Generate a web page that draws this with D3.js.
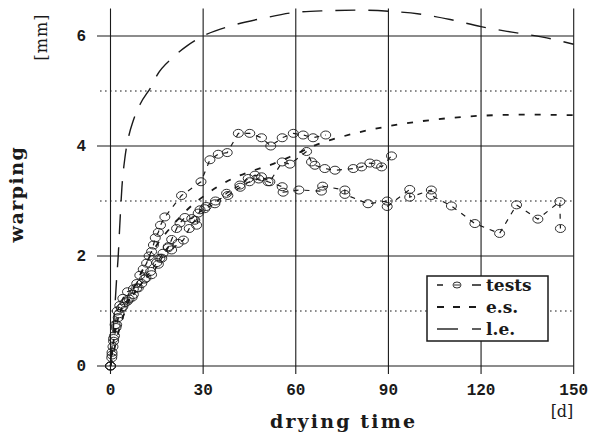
<!DOCTYPE html>
<html>
<head>
<meta charset="utf-8">
<script src="https://cdn.jsdelivr.net/npm/d3@7"></script>
<style>
  body { margin: 0; background: #fff; }
  svg { display: block; }
</style>
</head>
<body>
<svg width="591" height="435"></svg>
<script>
// chart values

// x ticks (days) and y ticks (mm)
var xTicks = [0, 30, 60, 90, 120, 150];
var yMajor = [0, 2, 4, 6];
var yMinor = [1, 3, 5];

// l.e. model curve: [day, warping]
var leCurve = [[0,0],[0.5,0.35],[1,0.75],[1.5,1.15],[2,1.6],[2.5,2.0],[3,2.55],[3.7,3.25],
  [4.7,3.8],[6,4.2],[7.3,4.45],[9.5,4.75],[13.4,5.1],[15,5.28],[20,5.6],[25,5.83],[30,6.0],
  [40,6.2],[50,6.33],[60,6.43],[70,6.46],[80,6.47],[90,6.45],[100,6.4],[110,6.3],
  [120,6.17],[130,6.07],[140,5.98],[150,5.85]];

// e.s. model curve
var esCurve = [[0,0],[3,0.7],[6,1.2],[10,1.7],[15,2.2],[20,2.55],[25,2.85],[30,3.08],
  [35,3.27],[40,3.42],[45,3.53],[52,3.66],[58,3.8],[67,4.03],[75,4.17],[90,4.36],
  [105,4.48],[120,4.55],[135,4.57],[150,4.56]];

// test specimens
var testA = [[0,0],[0.5,0.25],[1,0.5],[1.5,0.75],[2.2,1.0],[3,1.1],[4,1.23],[5.5,1.35],
  [7.4,1.4],[8.5,1.5],[9.5,1.65],[10.6,1.76],[11.7,1.87],[12.5,2.0],[13.3,2.08],[13.9,2.2],
  [14.5,2.33],[15.5,2.43],[16.2,2.56],[17.6,2.71],[23,3.1],[29.3,3.35],[32.2,3.75],
  [34.9,3.85],[37.8,3.88],[41.4,4.23],[45.1,4.23],[48.9,4.15],[51.9,4.0],[55.6,4.15],
  [59.2,4.23],[62.4,4.2],[65.6,4.15],[69.7,4.2]];

var testB = [[0,0],[0.5,0.2],[1,0.45],[1.8,0.7],[2.5,0.88],[3.5,1.05],[4.7,1.15],[6,1.22],
  [7.4,1.3],[8.5,1.42],[10.1,1.5],[11.5,1.6],[13.3,1.66],[15.5,1.85],[16.6,1.96],
  [18.7,2.15],[19.8,2.3],[21.4,2.5],[22.5,2.6],[24.1,2.7],[26.3,2.68],[28.4,2.78],
  [30.5,2.86],[33.8,2.95],[37.6,3.14],[41.9,3.29],[44.6,3.41],[46.8,3.47],[48.9,3.44],
  [51.6,3.35],[55.6,3.71],[58.1,3.67],[63.5,3.9],[65.1,3.71],[66.2,3.65],[69.4,3.59],
  [72.7,3.56],[78.6,3.59],[81.3,3.62],[84,3.69],[86.1,3.67],[87.8,3.62],[91,3.82]];

var testC = [[0,0],[0.4,0.15],[0.8,0.35],[1.3,0.55],[2,0.75],[2.8,0.95],[4,1.08],[5.5,1.18],
  [7,1.25],[9,1.42],[11,1.58],[13,1.72],[15,1.88],[16,1.96],[17,2.05],[18.7,2.17],
  [19.8,2.11],[21.9,2.23],[23.6,2.29],[25.5,2.5],[27.3,2.65],[27.9,2.56],[29,2.84],
  [31,2.9],[34,3.0],[38,3.1],[42,3.25],[45,3.35],[48,3.4],[51,3.35],[55.6,3.26],
  [55.9,3.16],[61,3.2],[68.3,3.18],[68.7,3.27],[75.9,3.2],[75.9,3.12],[83.4,2.95],
  [89.6,3.0],[89.6,2.9],[96.9,3.21],[96.9,3.07],[103.9,3.2],[103.9,3.1],[110.4,2.91],
  [118,2.59],[126,2.41],[131.5,2.93],[138.4,2.67],[145.5,2.99],[145.7,2.5]];

var tests = [testA, testB, testC];

var svg = d3.select("svg");
var ink = "#1a1a1a";

var x = d3.scaleLinear().domain([0, 150]).range([110.5, 573.7]);
var y = d3.scaleLinear().domain([0, 6.5]).range([366, 8.5]);

//grid: dotted minor lines first
svg.append("g").selectAll("line")
  .data(yMinor).enter().append("line")
  .attr("x1", 100).attr("x2", x(150))
  .attr("y1", function(d) { return y(d); })
  .attr("y2", function(d) { return y(d); })
  .attr("stroke", ink).attr("stroke-width", 1)
  .attr("stroke-dasharray", "1.6,3.4");

//major horizontal lines, reaching out past the left edge like ticks
svg.append("g").selectAll("line")
  .data(yMajor).enter().append("line")
  .attr("x1", 97).attr("x2", x(150))
  .attr("y1", function(d) { return y(d); })
  .attr("y2", function(d) { return y(d); })
  .attr("stroke", ink).attr("stroke-width", 1.1);

//vertical lines, down past the base line
svg.append("g").selectAll("line")
  .data(xTicks).enter().append("line")
  .attr("x1", function(d) { return x(d); })
  .attr("x2", function(d) { return x(d); })
  .attr("y1", y(6.5)).attr("y2", y(0) + 8)
  .attr("stroke", ink).attr("stroke-width", 1.1);

//tick labels
var tickFont = "'Liberation Mono', 'DejaVu Sans Mono', monospace";
svg.append("g").selectAll("text")
  .data(yMajor).enter().append("text")
  .attr("x", 86).attr("y", function(d) { return y(d) + 5; })
  .attr("text-anchor", "end")
  .attr("font-family", tickFont).attr("font-weight", "bold").attr("font-size", 16)
  .attr("fill", ink)
  .text(function(d) { return d; });

svg.append("g").selectAll("text")
  .data(xTicks).enter().append("text")
  .attr("x", function(d) { return x(d); }).attr("y", 395)
  .attr("text-anchor", "middle")
  .attr("font-family", tickFont).attr("font-weight", "bold").attr("font-size", 16)
  .attr("fill", ink)
  .text(function(d) { return d; });

//axis titles
var titleFont = "'DejaVu Serif', 'Liberation Serif', serif";
svg.append("text")
  .attr("x", 270).attr("y", 428)
  .attr("textLength", 145).attr("lengthAdjust", "spacing")
  .attr("font-family", titleFont).attr("font-weight", "bold").attr("font-size", 19)
  .attr("fill", ink).text("drying time");

svg.append("text")
  .attr("x", 562).attr("y", 417)
  .attr("text-anchor", "middle")
  .attr("font-family", titleFont).attr("font-size", 16)
  .attr("fill", ink).text("[d]");

svg.append("text")
  .attr("transform", "translate(23,194) rotate(-90)")
  .attr("text-anchor", "middle")
  .attr("font-family", titleFont).attr("font-weight", "bold").attr("font-size", 19)
  .attr("letter-spacing", 1.5)
  .attr("fill", ink).text("warping");

svg.append("text")
  .attr("transform", "translate(47,37) rotate(-90)")
  .attr("text-anchor", "middle")
  .attr("font-family", titleFont).attr("font-size", 16)
  .attr("letter-spacing", 1)
  .attr("fill", ink).text("[mm]");

var line = d3.line()
  .x(function(d) { return x(d[0]); })
  .y(function(d) { return y(d[1]); });

var smooth = d3.line()
  .x(function(d) { return x(d[0]); })
  .y(function(d) { return y(d[1]); })
  .curve(d3.curveMonotoneX);

//l.e. (long dash)
svg.append("path")
  .datum(leCurve)
  .attr("d", smooth)
  .attr("fill", "none").attr("stroke", ink).attr("stroke-width", 1.4)
  .attr("stroke-dasharray", "20,13");

//e.s. (short dash)
svg.append("path")
  .datum(esCurve)
  .attr("d", smooth)
  .attr("fill", "none").attr("stroke", ink).attr("stroke-width", 1.8)
  .attr("stroke-dasharray", "6,10");

//tests: dashed connecting lines with hollow circles
var testG = svg.append("g");
testG.selectAll("path")
  .data(tests).enter().append("path")
  .attr("d", line)
  .attr("fill", "none").attr("stroke", ink).attr("stroke-width", 1.2)
  .attr("stroke-dasharray", "5,6");

testG.selectAll("g.pts")
  .data(tests).enter().append("g").attr("class", "pts")
  .selectAll("ellipse")
  .data(function(d) { return d; }).enter().append("ellipse")
  .attr("cx", function(d) { return x(d[0]); })
  .attr("cy", function(d) { return y(d[1]); })
  .attr("rx", 5).attr("ry", 4)
  .attr("fill", "none").attr("stroke", ink).attr("stroke-width", 0.9);

//legend
var legendItems = ["tests", "e.s.", "l.e."];
var legend = svg.append("g");
legend.append("rect")
  .attr("x", 427).attr("y", 276).attr("width", 121).attr("height", 65)
  .attr("fill", "#fff").attr("stroke", ink).attr("stroke-width", 1.5);

legend.selectAll("text")
  .data(legendItems).enter().append("text")
  .attr("x", 486).attr("y", function(d, i) { return 291 + i * 22; })
  .attr("font-family", titleFont).attr("font-weight", "bold").attr("font-size", 17)
  .attr("fill", ink)
  .text(function(d) { return d; });

var rowY = function(i) { return 285 + i * 22; };
// tests sample
legend.append("line").attr("x1", 437).attr("x2", 443).attr("y1", rowY(0)).attr("y2", rowY(0))
  .attr("stroke", ink).attr("stroke-width", 1.5);
legend.append("ellipse").attr("cx", 457).attr("cy", rowY(0)).attr("rx", 4).attr("ry", 3)
  .attr("fill", "none").attr("stroke", ink).attr("stroke-width", 0.9);
legend.append("line").attr("x1", 454).attr("x2", 460).attr("y1", rowY(0)).attr("y2", rowY(0))
  .attr("stroke", ink).attr("stroke-width", 0.9);
legend.append("line").attr("x1", 472).attr("x2", 481).attr("y1", rowY(0)).attr("y2", rowY(0))
  .attr("stroke", ink).attr("stroke-width", 1.5);
// e.s. sample
legend.append("line").attr("x1", 437).attr("x2", 481).attr("y1", rowY(1)).attr("y2", rowY(1))
  .attr("stroke", ink).attr("stroke-width", 1.8).attr("stroke-dasharray", "7,9");
// l.e. sample
legend.append("line").attr("x1", 437).attr("x2", 458).attr("y1", rowY(2)).attr("y2", rowY(2))
  .attr("stroke", ink).attr("stroke-width", 1.4);
legend.append("line").attr("x1", 472).attr("x2", 481).attr("y1", rowY(2)).attr("y2", rowY(2))
  .attr("stroke", ink).attr("stroke-width", 1.4);
</script>
